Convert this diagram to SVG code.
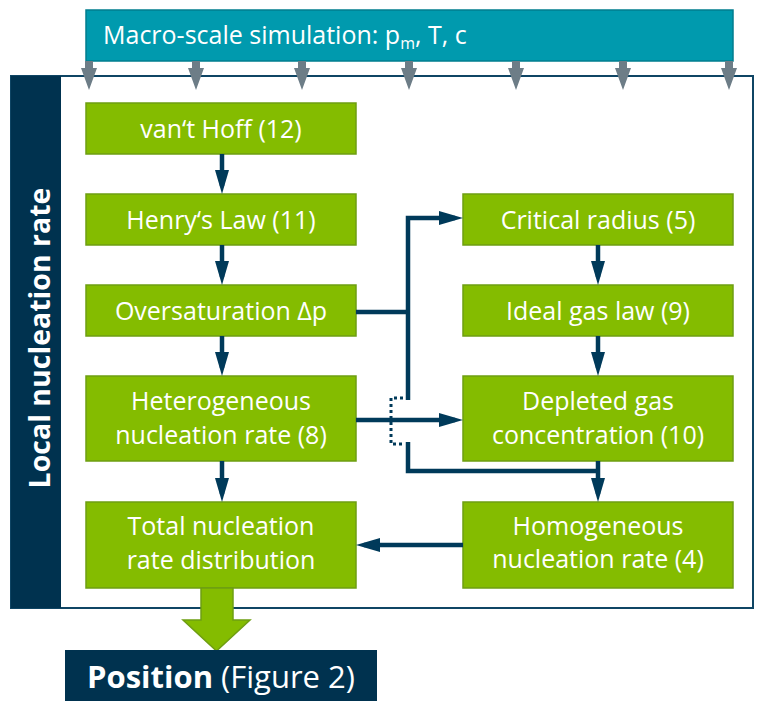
<svg xmlns="http://www.w3.org/2000/svg" width="764" height="710" viewBox="0 0 764 710">
<style>
.box{fill:#84bc00;stroke:#6e9e12;stroke-width:1.5}
.t{font-family:"Open Sans","Noto Sans",sans-serif;font-size:25px;fill:#ffffff;text-anchor:middle}
.con{fill:none;stroke:#003a5a;stroke-width:4.5}
.dot{fill:none;stroke:#003a5a;stroke-width:3;stroke-dasharray:3 3}
.ga{fill:#6d7d87}
</style>
<defs>
<marker id="ah" viewBox="0 0 24 14" refX="16" refY="7" markerWidth="24" markerHeight="14" markerUnits="userSpaceOnUse" orient="auto">
<path d="M0 0 L24 7 L0 14 Z" fill="#003a5a"/>
</marker>
<path id="garrow" d="M-4 61 H4 V68 H8 L0 90 L-8 68 H-4 Z"/>
</defs>
<g id="frame">
<rect x="11" y="76" width="742" height="532" fill="#ffffff" stroke="#0f4564" stroke-width="2"/>
<rect x="11" y="76" width="50" height="532" fill="#00324f"/>
<text transform="translate(50,338) rotate(-90)" font-family="Open Sans, Noto Sans, sans-serif" font-size="28.5" font-weight="bold" fill="#ffffff" text-anchor="middle">Local nucleation rate</text>
</g>
<g id="macro">
<rect x="86" y="10" width="647" height="51" fill="#009aae" stroke="#007d8f" stroke-width="1.5"/>
<text x="103" y="44" font-family="Open Sans, Noto Sans, sans-serif" font-size="25" fill="#ffffff">Macro-scale simulation: p<tspan font-size="16" dy="5">m</tspan><tspan dy="-5">, T, c</tspan></text>
</g>
<g id="macro-arrows" class="ga">
<use href="#garrow" x="89"/>
<use href="#garrow" x="196"/>
<use href="#garrow" x="302"/>
<use href="#garrow" x="409"/>
<use href="#garrow" x="516"/>
<use href="#garrow" x="623"/>
<use href="#garrow" x="729"/>
</g>
<g id="vanthoff"><rect class="box" x="86" y="103" width="270" height="51"/><text class="t" x="221" y="137.5">van‘t Hoff (12)</text></g>
<g id="henry"><rect class="box" x="86" y="194" width="270" height="51"/><text class="t" x="221" y="228.5">Henry‘s Law (11)</text></g>
<g id="oversat"><rect class="box" x="86" y="285" width="270" height="51"/><text class="t" x="221" y="320">Oversaturation Δp</text></g>
<g id="hetero"><rect class="box" x="86" y="376" width="270" height="85"/><text class="t" x="221" y="410">Heterogeneous</text><text class="t" x="221" y="444">nucleation rate (8)</text></g>
<g id="total"><rect class="box" x="86" y="502" width="270" height="86"/><text class="t" x="221" y="535">Total nucleation</text><text class="t" x="221" y="569">rate distribution</text></g>
<g id="critical"><rect class="box" x="463" y="194" width="270" height="51"/><text class="t" x="598" y="229">Critical radius (5)</text></g>
<g id="ideal"><rect class="box" x="463" y="285" width="270" height="51"/><text class="t" x="598" y="320">Ideal gas law (9)</text></g>
<g id="depleted"><rect class="box" x="463" y="376" width="270" height="85"/><text class="t" x="598" y="410">Depleted gas</text><text class="t" x="598" y="444">concentration (10)</text></g>
<g id="homog"><rect class="box" x="463" y="502" width="270" height="86"/><text class="t" x="598" y="535">Homogeneous</text><text class="t" x="598" y="568">nucleation rate (4)</text></g>
<g id="connectors">
<path class="con" d="M222 154 V186" marker-end="url(#ah)"/>
<path class="con" d="M222 245 V277" marker-end="url(#ah)"/>
<path class="con" d="M222 336 V368" marker-end="url(#ah)"/>
<path class="con" d="M222 461 V494" marker-end="url(#ah)"/>
<path class="con" d="M598 245 V277" marker-end="url(#ah)"/>
<path class="con" d="M598 336 V368" marker-end="url(#ah)"/>
<path class="con" d="M598 461 V494" marker-end="url(#ah)"/>
<path class="con" d="M356 312 H408"/>
<path class="con" d="M408 400 V218 H455" marker-end="url(#ah)"/>
<path class="con" d="M356 420 H455" marker-end="url(#ah)"/>
<path class="dot" d="M403 398 H391 V444 H403"/>
<path class="con" d="M408 442 V471 H598"/>
<path class="con" d="M463 545 H364" marker-end="url(#ah)"/>
</g>
<g id="big-arrow">
<path d="M201 588 H233 V620 H250 L216.5 651 L183 620 H201 Z" fill="#84bc00" stroke="#6e9e12" stroke-width="1.5"/>
</g>
<g id="position">
<rect x="65" y="650" width="312" height="51" fill="#00324f"/>
<text x="221" y="688" font-family="Open Sans, Noto Sans, sans-serif" font-size="31" fill="#ffffff" text-anchor="middle"><tspan font-weight="bold">Position</tspan> (Figure 2)</text>
</g>
</svg>
